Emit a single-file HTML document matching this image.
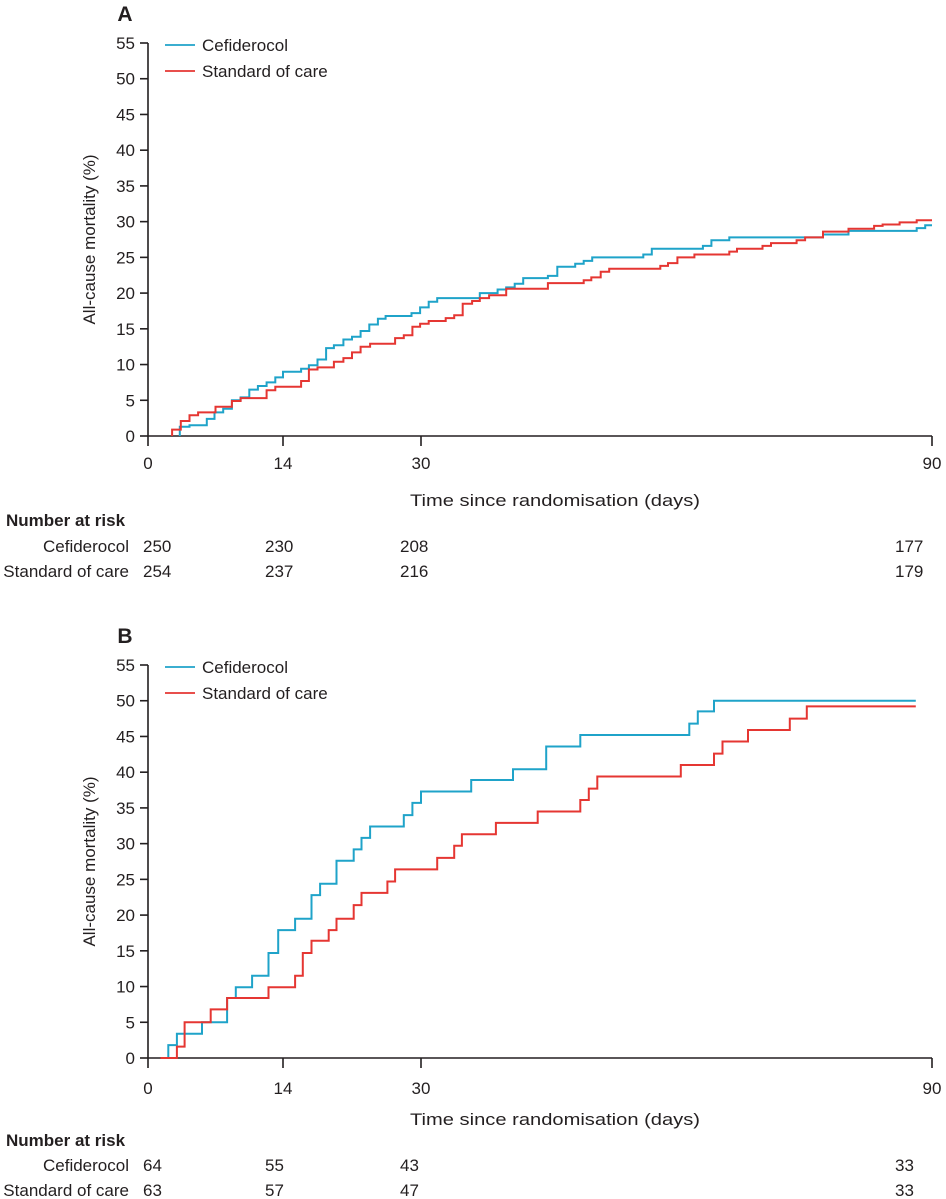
<!DOCTYPE html>
<html><head><meta charset="utf-8"><style>
html,body{margin:0;padding:0;background:#fff;}
svg{display:block;font-family:"Liberation Sans",sans-serif;fill:#231f20;}
text{fill:#231f20;}
</style></head><body>
<svg id="fig" width="946" height="1199" viewBox="0 0 946 1199" xmlns="http://www.w3.org/2000/svg"></svg>
<script>
// shared axis data
const xTicks = [0, 14, 30, 90];
const yTicks = [0, 5, 10, 15, 20, 25, 30, 35, 40, 45, 50, 55];
const riskGroups = ["Cefiderocol", "Standard of care"];
const legendLabels = ["Cefiderocol", "Standard of care"];

// Panel A data
const aCefStart = 3.3, aCefEnd = 90;
const aCefDays = [3.3,4.3,6.1,6.9,7.8,8.7,9.6,10.5,11.4,12.3,13.2,14.0,16.1,17.0,18.0,19.0,19.9,21.0,22.0,23.0,24.0,25.0,25.9,28.9,29.9,30.9,31.9,36.9,39.0,40.0,41.0,42.0,44.9,46.0,48.1,49.1,50.1,56.1,57.1,63.1,64.1,66.2,77.2,80.2,88.2,89.2];
const aCefPct = [1.3,1.5,2.4,3.3,3.8,5.0,5.4,6.5,7.0,7.5,8.2,9.0,9.4,9.9,10.7,12.3,12.7,13.5,13.9,14.7,15.6,16.4,16.8,17.2,18.0,18.8,19.3,20.0,20.5,20.8,21.3,22.1,22.4,23.7,24.1,24.5,25.0,25.4,26.2,26.6,27.4,27.8,28.2,28.7,29.1,29.5];
const aSocStart = 2.5, aSocEnd = 90;
const aSocDays = [2.5,3.4,4.3,5.2,7.0,8.7,9.6,12.3,13.2,16.1,17.0,18.0,19.9,21.0,22.0,23.0,24.1,27.0,28.0,29.0,29.9,30.9,32.9,33.9,34.9,36.0,36.9,38.0,40.0,44.9,49.1,50.0,51.1,52.1,58.1,59.0,60.1,62.1,66.2,67.1,70.1,71.1,74.1,75.1,77.2,80.2,83.2,84.2,86.2,88.2];
const aSocPct = [0.9,2.1,2.9,3.3,4.1,4.9,5.3,6.4,6.9,7.7,9.3,9.6,10.4,10.9,11.7,12.5,12.9,13.7,14.1,15.3,15.7,16.1,16.5,16.9,18.5,18.9,19.3,19.7,20.6,21.4,21.8,22.2,23.0,23.4,23.8,24.2,25.0,25.4,25.8,26.2,26.6,27.0,27.4,27.8,28.6,29.0,29.4,29.6,29.9,30.2];
const aRiskCef = [250, 230, 208, 177];
const aRiskSoc = [254, 237, 216, 179];

// Panel B data
const bCefStart = 1.3, bCefEnd = 88.1;
const bCefDays = [2.1,3.0,5.6,8.2,9.1,10.8,12.5,13.5,15.4,17.3,18.3,20.2,22.2,23.1,24.1,28.0,29.0,30.0,35.9,40.8,44.7,48.7,61.5,62.5,64.4];
const bCefPct = [1.8,3.4,5.0,8.4,9.9,11.5,14.7,17.9,19.5,22.8,24.4,27.6,29.2,30.8,32.4,34.0,35.7,37.3,38.9,40.4,43.6,45.2,46.8,48.5,50.0];
const bSocStart = 1.3, bSocEnd = 88.1;
const bSocDays = [3.0,3.8,6.5,8.2,12.5,15.4,16.3,17.3,19.3,20.2,22.2,23.1,26.1,27.0,31.9,33.9,34.8,38.8,43.7,48.7,49.7,50.7,60.5,64.4,65.4,68.4,73.3,75.3];
const bSocPct = [1.6,5.0,6.8,8.4,9.9,11.5,14.7,16.4,17.9,19.5,21.4,23.1,24.7,26.4,28.0,29.7,31.3,32.9,34.5,36.1,37.7,39.4,41.0,42.6,44.3,45.9,47.5,49.2];
const bRiskCef = [64, 55, 43, 33];
const bRiskSoc = [63, 57, 47, 33];

const NS = "http://www.w3.org/2000/svg";
const svg = document.getElementById("fig");
const CEF = "#1fa3c9", SOC = "#e53632";
const tickPx = [148, 283, 421, 932];
function xs(d){
  for (let i = 0; i < xTicks.length - 1; i++) {
    if (d <= xTicks[i+1] || i === xTicks.length - 2) {
      return tickPx[i] + (d - xTicks[i]) / (xTicks[i+1] - xTicks[i]) * (tickPx[i+1] - tickPx[i]);
    }
  }
}
function mk(tag, attrs, parent){
  const e = document.createElementNS(NS, tag);
  for (const k in attrs) e.setAttribute(k, attrs[k]);
  (parent || svg).appendChild(e);
  return e;
}
function txt(s, x, y, attrs, parent){
  const t = mk("text", Object.assign({x:x, y:y}, attrs), parent);
  t.textContent = s;
  return t;
}

function panel(id, letter, y0, cef, soc, riskCef, riskSoc, off){
  const g = mk("g", {});
  
  
  const yTop = y0, yBot = y0 + 393;
  const ys = p => yBot - p / 55 * (yBot - yTop);
  const t = txt(letter, 125, yTop - 22, {"font-size":"21", "font-weight":"bold", "text-anchor":"middle"}, g);
  
  
  const ax = mk("path", {d:`M148 ${yTop} V${yBot} H932`, stroke:"#231f20", "stroke-width":"1.6", fill:"none"}, g);
  
  
  yTicks.forEach(v => {
    const yy = ys(v);
    const tk = mk("line", {x1:140, x2:148, y1:yy, y2:yy, stroke:"#231f20", "stroke-width":"1.6"}, g);
    
    
    const l = txt(String(v), 135, yy + 6, {"font-size":"17", "text-anchor":"end"}, g);
    
    
  });
  xTicks.forEach(v => {
    const xx = xs(v);
    const tk = mk("line", {x1:xx, x2:xx, y1:yBot, y2:yBot + 10, stroke:"#231f20", "stroke-width":"1.6"}, g);
    
    
    const l = txt(String(v), xx, yBot + off.lab, {"font-size":"17", "text-anchor":"middle"}, g);
    
    
  });
  const xt = txt("Time since randomisation (days)", 410, yBot + off.title, {"font-size":"17", textLength:"290", lengthAdjust:"spacingAndGlyphs"}, g);
  
  
  const cy = (yTop + yBot) / 2;
  const yt = txt("All-cause mortality (%)", 95, cy, {"font-size":"17", "text-anchor":"middle", transform:`rotate(-90 95 ${cy})`}, g);
  
  
  [[cef, CEF, "cefiderocol"], [soc, SOC, "standard-of-care"]].forEach(([s, col, nm]) => {
    let d = `M${xs(s.start).toFixed(1)} ${ys(0).toFixed(1)}`;
    s.days.forEach((dd, i) => {
      d += ` H${xs(dd).toFixed(1)} V${ys(s.pct[i]).toFixed(1)}`;
    });
    d += ` H${xs(s.end).toFixed(1)}`;
    const p = mk("path", {d:d, stroke:col, "stroke-width":"2", fill:"none"}, g);
    
    
  });
  [CEF, SOC].forEach((col, i) => {
    const ly = yTop + 2 + i * 26;
    const ln = mk("line", {x1:165, x2:195, y1:ly, y2:ly, stroke:col, "stroke-width":"1.8"}, g);
    
    
    const lt = txt(legendLabels[i], 202, ly + 6, {"font-size":"17"}, g);
    
    
  });
  const nar = txt("Number at risk", 6, yBot + off.nar, {"font-size":"17", "font-weight":"bold"}, g);
  
  
  const numX = [143, 265, 400, 895];
  [riskCef, riskSoc].forEach((row, r) => {
    const ry = yBot + off.row + r * 25;
    const rl = txt(riskGroups[r], 129, ry, {"font-size":"17", "text-anchor":"end"}, g);
    
    
    row.forEach((n, i) => {
      const c = txt(String(n), numX[i], ry, {"font-size":"17"}, g);
      
      
    });
  });
}

panel("a", "A", 43,
  {start:aCefStart, end:aCefEnd, days:aCefDays, pct:aCefPct},
  {start:aSocStart, end:aSocEnd, days:aSocDays, pct:aSocPct},
  aRiskCef, aRiskSoc, {lab:33, title:70, nar:90, row:116});
panel("b", "B", 665,
  {start:bCefStart, end:bCefEnd, days:bCefDays, pct:bCefPct},
  {start:bSocStart, end:bSocEnd, days:bSocDays, pct:bSocPct},
  bRiskCef, bRiskSoc, {lab:36, title:67, nar:88, row:113});
</script>
</body></html>
